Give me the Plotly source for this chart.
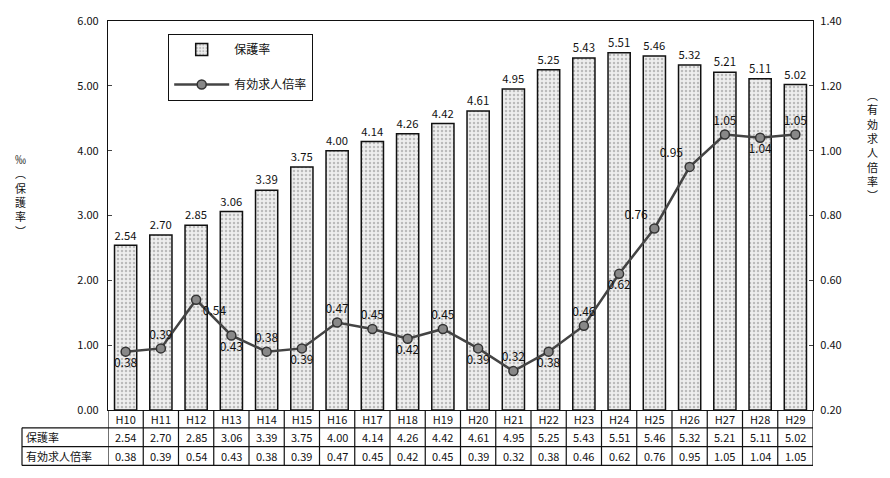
import plotly.graph_objects as go

years = ["H10", "H11", "H12", "H13", "H14", "H15", "H16", "H17", "H18", "H19",
         "H20", "H21", "H22", "H23", "H24", "H25", "H26", "H27", "H28", "H29"]
hogo_rate = [2.54, 2.70, 2.85, 3.06, 3.39, 3.75, 4.00, 4.14, 4.26, 4.42,
             4.61, 4.95, 5.25, 5.43, 5.51, 5.46, 5.32, 5.21, 5.11, 5.02]
job_ratio = [0.38, 0.39, 0.54, 0.43, 0.38, 0.39, 0.47, 0.45, 0.42, 0.45,
             0.39, 0.32, 0.38, 0.46, 0.62, 0.76, 0.95, 1.05, 1.04, 1.05]

bar_name = "保護率"
line_name = "有効求人倍率"

line_label_pos = ["bottom center", "top center", "bottom right", "bottom center", "top center",
                  "bottom center", "top center", "top center", "bottom center", "top center",
                  "bottom center", "top center", "bottom center", "top center", "bottom center",
                  "top left", "top left", "top center", "bottom center", "top center"]

FONT = "Noto Sans CJK JP, Liberation Sans, sans-serif"

# plot-area geometry in pixels (for the table drawn below the axis)
L, R, T, B = 108, 813, 17, 410
PW, PH = R - L, B - T


def py(y):
    return (B - y) / PH


def px(x):
    return (x - L) / PW


fig = go.Figure()
fig.add_trace(go.Bar(
    x=years, y=hogo_rate, name=bar_name, width=0.63,
    marker=dict(color="#dcdcdc", line=dict(color="#111", width=1.5),
                pattern=dict(shape=".", fgcolor="#888", bgcolor="#eeeeee", size=4, solidity=0.3)),
    text=[f"{v:.2f}" for v in hogo_rate], textposition="outside", cliponaxis=False,
    textfont=dict(family=FONT, size=12, color="#111"),
    legendgroup="a",
))
fig.add_trace(go.Scatter(
    x=years, y=job_ratio, name=line_name, yaxis="y2", mode="lines+markers+text",
    line=dict(color="#444", width=2.5),
    marker=dict(symbol="circle", size=9, color="#888", line=dict(color="#333", width=1.5)),
    text=[f"{v:.2f}" for v in job_ratio], textposition=line_label_pos,
    textfont=dict(family=FONT, size=12, color="#111"),
    legendgroup="b",
))

shapes = []
# table grid
for i in range(len(years) + 1):
    shapes.append(dict(type="line", xref="x", yref="paper", x0=i - 0.5, x1=i - 0.5,
                       y0=0, y1=py(466), line=dict(color="#111", width=1.2)))
for yy in (428, 447, 466):
    shapes.append(dict(type="line", xref="paper", yref="paper", x0=px(22), x1=1,
                       y0=py(yy), y1=py(yy), line=dict(color="#111", width=1.2)))
shapes.append(dict(type="line", xref="paper", yref="paper", x0=px(22), x1=px(22),
                   y0=py(428), y1=py(466), line=dict(color="#111", width=1.2)))

ann = []
for i, yv in enumerate(years):
    ann.append(dict(x=yv, xref="x", y=py(437.5), yref="paper", text=f"{hogo_rate[i]:.2f}",
                    xanchor="center", yanchor="middle",
                    showarrow=False, font=dict(family=FONT, size=11, color="#111")))
    ann.append(dict(x=yv, xref="x", y=py(456.5), yref="paper", text=f"{job_ratio[i]:.2f}",
                    xanchor="center", yanchor="middle",
                    showarrow=False, font=dict(family=FONT, size=11, color="#111")))
ann.append(dict(x=px(24), xref="paper", y=py(437.5), yref="paper", text=bar_name,
                xanchor="left", yanchor="middle",
                showarrow=False, font=dict(family=FONT, size=11, color="#111")))
ann.append(dict(x=px(24), xref="paper", y=py(456.5), yref="paper", text=line_name,
                xanchor="left", yanchor="middle",
                showarrow=False, font=dict(family=FONT, size=11, color="#111")))
# axis titles (vertical writing)
ann.append(dict(x=px(20), xref="paper", y=py(193), yref="paper",
                xanchor="center", yanchor="middle",
                text="<br>".join(["‰", "︵", "保", "護", "率", "︶"]),
                showarrow=False, font=dict(family=FONT, size=11, color="#111")))
ann.append(dict(x=px(873), xref="paper", y=py(142), yref="paper",
                xanchor="center", yanchor="middle",
                text="<br>".join(["︵", "有", "効", "求", "人", "倍", "率", "︶"]),
                showarrow=False, font=dict(family=FONT, size=11, color="#111")))

fig.update_layout(
    width=890, height=478,
    margin=dict(l=L, r=890 - R, t=T, b=478 - B),
    paper_bgcolor="white", plot_bgcolor="white",
    font=dict(family=FONT, size=11, color="#111"),
    showlegend=True,
    legend=dict(x=px(168), y=py(30), xanchor="left", yanchor="top",
                bordercolor="#111", borderwidth=1.2, bgcolor="white",
                font=dict(family=FONT, size=12), tracegroupgap=16,
                traceorder="grouped", itemwidth=55),
    xaxis=dict(showline=True, linecolor="#111", linewidth=1.2, mirror=True,
               ticks="", tickfont=dict(family=FONT, size=11), showgrid=False,
               range=[-0.5, len(years) - 0.5]),
    yaxis=dict(range=[0, 6], dtick=1, tickformat=".2f", showgrid=False, zeroline=False,
               showline=True, linecolor="#111", linewidth=1.2, ticks="inside", ticklen=4,
               tickfont=dict(family=FONT, size=11), ticklabelstandoff=6),
    yaxis2=dict(range=[0.2, 1.4], dtick=0.2, tickformat=".2f", overlaying="y", side="right",
                showgrid=False, zeroline=False, showline=True, linecolor="#111", linewidth=1.2,
                ticks="inside", ticklen=4, tickfont=dict(family=FONT, size=11),
                ticklabelstandoff=4),
    shapes=shapes, annotations=ann,
)

fig.write_html("out.html")
